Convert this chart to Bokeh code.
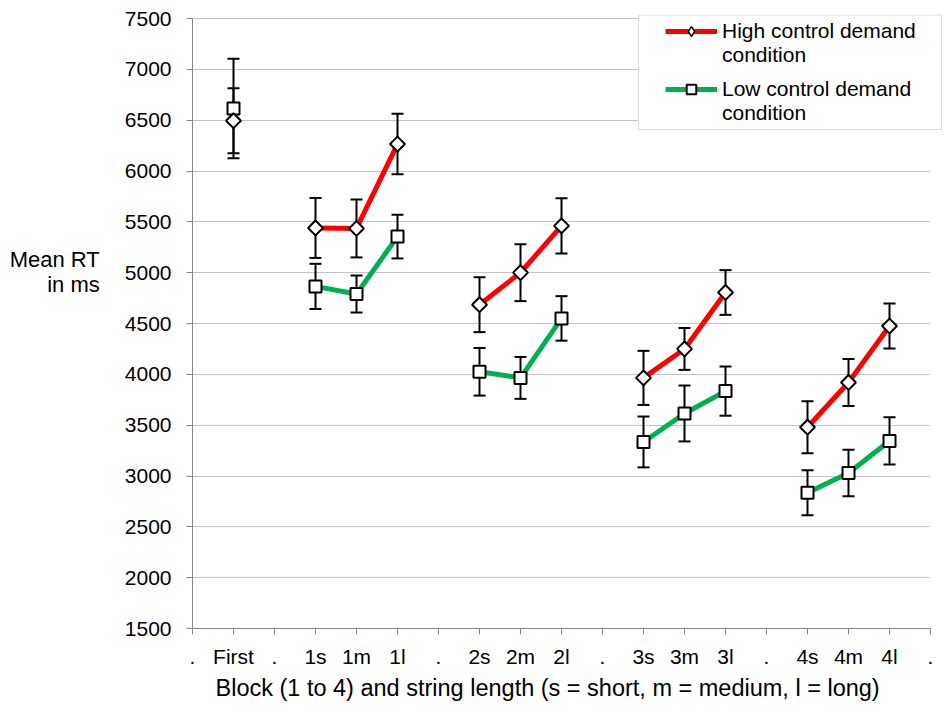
import numpy as np
from bokeh.plotting import figure
from bokeh.models import (Range1d, FixedTicker, Whisker, TeeHead, ColumnDataSource,
                          Legend, LegendItem, BoxAnnotation, Title)
from bokeh.embed import file_html
from bokeh.resources import INLINE

# ---------------- data ----------------
categories = [".", "First", ".", "1s", "1m", "1l", ".", "2s", "2m", "2l", ".",
              "3s", "3m", "3l", ".", "4s", "4m", "4l", "."]
conditions = ["First", "1s", "1m", "1l", "2s", "2m", "2l", "3s", "3m", "3l", "4s", "4m", "4l"]
blocks = ["0", "1", "1", "1", "2", "2", "2", "3", "3", "3", "4", "4", "4"]
high_mean = [6495, 5440, 5435, 6265, 4685, 5000, 5460, 3965, 4250, 4805, 3480, 3920, 4475]
high_err = [320, 295, 285, 298, 270, 280, 272, 266, 206, 220, 256, 232, 222]
low_mean = [6615, 4865, 4790, 5355, 4025, 3965, 4550, 3335, 3615, 3835, 2835, 3030, 3345]
low_err = [490, 222, 182, 215, 234, 206, 219, 250, 275, 242, 222, 229, 232]
y_ticks = [1500, 2000, 2500, 3000, 3500, 4000, 4500, 5000, 5500, 6000, 6500, 7000, 7500]
series_names = [["High control demand", "condition"], ["Low control demand", "condition"]]
x_title = "Block (1 to 4) and string length  (s = short, m = medium, l = long)"
y_title = "Mean RT\nin ms"

RED = "#FF0000"
GREEN = "#00B050"
GREY = "#868686"
FONT = "Liberation Sans"

xpos = [categories.index(c) for c in conditions]
n_last = len(categories) - 1

# frame: 750 px wide (axis 0..18 uses 738 px), 614 px tall (1500..7500 uses 610 px)
PX_X = 738 / n_last
PX_Y = 610 / (y_ticks[-1] - y_ticks[0])
x_end = n_last + 12 / PX_X
y_end = y_ticks[-1] + 4 / PX_Y

p = figure(width=946, height=720, output_backend="svg", toolbar_location=None,
           x_range=Range1d(0, x_end), y_range=Range1d(y_ticks[0], y_end),
           min_border_left=192, min_border_right=4, min_border_top=14, min_border_bottom=92)
p.outline_line_color = None
p.background_fill_color = "white"

# grid
p.xgrid.visible = False
g = p.ygrid[0]
g.grid_line_color = GREY
g.grid_line_dash = "1 1"
g.grid_line_width = 1
if hasattr(g, "cross_bounds"):
    g.cross_bounds = (0, n_last)

# axes
p.xaxis.ticker = FixedTicker(ticks=list(range(len(categories))))
p.xaxis.major_label_overrides = {i: c for i, c in enumerate(categories)}
p.yaxis.ticker = FixedTicker(ticks=y_ticks)
p.xaxis.bounds = (0, n_last)
p.yaxis.bounds = (y_ticks[0], y_ticks[-1])
for ax in (p.xaxis[0], p.yaxis[0]):
    ax.axis_line_color = GREY
    ax.major_tick_line_color = GREY
    ax.minor_tick_line_color = None
    ax.major_tick_in = 0
    ax.major_tick_out = 6
    ax.major_label_text_font = FONT
    ax.major_label_text_font_size = "21px"
    ax.major_label_text_color = "black"
p.xaxis.major_label_standoff = 10
p.yaxis.major_label_standoff = 15

# x title below the axis, left-aligned with an offset as in the reference
xt = Title(text=x_title, align="left", offset=23, text_font=FONT, text_font_size="23.5px",
           text_font_style="normal", text_color="black", standoff=4)
p.add_layout(xt, "below")

ya = p.yaxis[0]
ya.axis_label = y_title + "\n \n \n \n "
ya.axis_label_text_font = FONT
ya.axis_label_text_font_size = "22px"
ya.axis_label_text_font_style = "normal"
ya.axis_label_text_color = "black"
ya.axis_label_text_line_height = 1.0
ya.axis_label_standoff = 22
if hasattr(ya, "axis_label_orientation"):
    ya.axis_label_orientation = "horizontal"

# data source
src = ColumnDataSource(dict(
    x=xpos, block=blocks,
    hm=high_mean, hu=[m + e for m, e in zip(high_mean, high_err)],
    hl=[m - e for m, e in zip(high_mean, high_err)],
    lm=low_mean, lu=[m + e for m, e in zip(low_mean, low_err)],
    ll=[m - e for m, e in zip(low_mean, low_err)],
))

# connecting lines within blocks 1-4
def block_lines(means):
    xs, ys = [], []
    for b in ["1", "2", "3", "4"]:
        idx = [i for i, bb in enumerate(blocks) if bb == b]
        xs.append([xpos[i] for i in idx])
        ys.append([means[i] for i in idx])
    return xs, ys

xs, ys = block_lines(high_mean)
r_high_line = p.multi_line(xs, ys, line_color=RED, line_width=5)
xs, ys = block_lines(low_mean)
r_low_line = p.multi_line(xs, ys, line_color=GREEN, line_width=5)

# error bars
for up, lo in (("lu", "ll"), ("hu", "hl")):
    w = Whisker(base="x", upper=up, lower=lo, source=src, line_color="black", line_width=2,
                upper_head=TeeHead(size=12, line_width=2, line_color="black"),
                lower_head=TeeHead(size=12, line_width=2, line_color="black"))
    p.add_layout(w)

# markers (legend-only diamond hidden underneath the drawn diamonds)
r_high_leg = p.scatter("x", "hm", source=src, marker="diamond", size=9, fill_color="white",
                       line_color="black", line_width=1.5)
r_low_mark = p.scatter("x", "lm", source=src, marker="square", size=12, fill_color="white",
                       line_color="black", line_width=2)
r_high_mark = p.scatter("x", "hm", source=src, marker="square", angle=np.pi / 4, size=10.5,
                        fill_color="white", line_color="black", line_width=2)
# renderer without data: gives a legend row with text only
r_blank = p.line([], [], line_alpha=0)

# legend box
box = BoxAnnotation(left=(638 - 192) / PX_X, right=(941 - 192) / PX_X,
                    top=y_ticks[-1] + (18 - 14.5) / PX_Y, bottom=y_ticks[-1] - (129 - 18) / PX_Y,
                    fill_color="white", fill_alpha=1, line_color=GREY, line_width=1)
p.add_layout(box)

leg_style = dict(margin=0, padding=5, spacing=0, glyph_width=52, glyph_height=24,
                 label_height=24, label_standoff=5,
                 label_text_font=FONT, label_text_font_size="21px", label_text_color="black",
                 border_line_color=None, background_fill_alpha=0)
for (name1, name2), rends, loc in ((series_names[0], [r_high_line, r_high_leg], (473, 561)),
                                   (series_names[1], [r_low_line, r_low_mark], (473, 503))):
    lg = Legend(items=[LegendItem(label=name1, renderers=rends),
                       LegendItem(label=name2, renderers=[r_blank])],
                location=loc, **leg_style)
    p.add_layout(lg)

open("out.html", "w").write(file_html(p, INLINE))
